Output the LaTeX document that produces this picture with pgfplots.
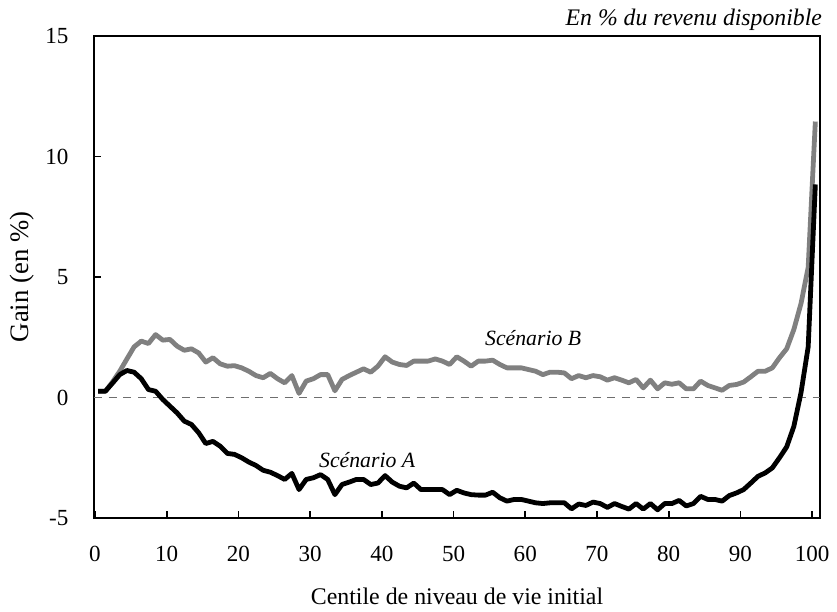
\documentclass[border=0pt]{standalone}
\usepackage{pgfplots}
\usepackage{pgfplotstable}
\pgfplotsset{compat=1.18}
\usepackage{fontspec}
\setmainfont{Liberation Serif}
\definecolor{lgray}{RGB}{128,128,128}
\definecolor{dgray}{RGB}{110,110,110}

\pgfplotstableread{
i B A
0 0.26 0.26
1 0.26 0.26
2 0.65 0.60
3 1.09 0.95
4 1.60 1.12
5 2.10 1.05
6 2.34 0.78
7 2.24 0.33
8 2.61 0.26
9 2.38 -0.08
10 2.41 -0.36
11 2.13 -0.64
12 1.96 -0.98
13 2.02 -1.12
14 1.85 -1.46
15 1.47 -1.91
16 1.65 -1.82
17 1.40 -2.02
18 1.30 -2.32
19 1.32 -2.36
20 1.23 -2.50
21 1.09 -2.68
22 0.91 -2.82
23 0.82 -3.02
24 1.00 -3.10
25 0.78 -3.24
26 0.61 -3.40
27 0.91 -3.15
28 0.17 -3.82
29 0.68 -3.40
30 0.78 -3.33
31 0.95 -3.20
32 0.95 -3.40
33 0.28 -4.03
34 0.75 -3.61
35 0.91 -3.51
36 1.05 -3.40
37 1.19 -3.40
38 1.05 -3.61
39 1.30 -3.55
40 1.69 -3.24
41 1.47 -3.51
42 1.37 -3.68
43 1.33 -3.75
44 1.51 -3.55
45 1.51 -3.82
46 1.51 -3.82
47 1.60 -3.82
48 1.51 -3.82
49 1.37 -4.03
50 1.69 -3.85
51 1.51 -3.96
52 1.30 -4.03
53 1.51 -4.05
54 1.51 -4.05
55 1.55 -3.93
56 1.37 -4.16
57 1.23 -4.30
58 1.23 -4.23
59 1.23 -4.23
60 1.16 -4.30
61 1.09 -4.37
62 0.95 -4.40
63 1.05 -4.37
64 1.05 -4.37
65 1.02 -4.37
66 0.78 -4.62
67 0.91 -4.42
68 0.82 -4.48
69 0.91 -4.34
70 0.86 -4.40
71 0.72 -4.56
72 0.82 -4.40
73 0.72 -4.52
74 0.61 -4.63
75 0.75 -4.40
76 0.40 -4.63
77 0.72 -4.40
78 0.36 -4.66
79 0.61 -4.40
80 0.55 -4.40
81 0.61 -4.27
82 0.36 -4.50
83 0.36 -4.40
84 0.68 -4.10
85 0.50 -4.23
86 0.40 -4.23
87 0.30 -4.30
88 0.50 -4.07
89 0.54 -3.96
90 0.64 -3.82
91 0.86 -3.55
92 1.09 -3.27
93 1.09 -3.13
94 1.23 -2.92
95 1.65 -2.50
96 2.02 -2.05
97 2.82 -1.20
98 3.90 0.20
99 5.40 2.10
100 11.45 8.84
}\datatable

\begin{document}
\begin{tikzpicture}
\begin{axis}[
  name=ax,
  scale only axis,
  width=544.5pt, height=361.5pt,
  xmin=-0.14, xmax=101.1,
  ymin=-5, ymax=15,
  axis line style={line width=1.5pt},
  xtick={0,10,20,30,40,50,60,70,80,90,100},
  xticklabels={0,10,20,30,40,50,60,70,80,90,100},
  ytick={-5,0,5,10,15},
  yticklabels={-5,0,5,10,15},
  tick pos=left,
  tick align=inside,
  major tick length=5pt,
  every tick/.style={black, line width=1.2pt},
  tick label style={font=\fontsize{17.3pt}{21pt}\selectfont},
  xticklabel style={anchor=base, yshift=-32.5pt},
  yticklabel style={anchor=east, inner sep=0pt, xshift=-19pt},
  every axis x label/.style={at={(axis description cs:0.5,-0.18)}, anchor=base, font=\fontsize{17.9pt}{22pt}\selectfont},
  every axis y label/.style={at={(axis description cs:-0.0993,0.5)}, anchor=center, rotate=90, font=\fontsize{20pt}{24pt}\selectfont},
  xlabel={Centile de niveau de vie initial},
  ylabel={Gain (en \%)},
  clip=false,
]
\addplot[dgray, line width=0.8pt, dash pattern=on 6pt off 5pt, forget plot] coordinates {(-0.14,0) (101.1,0)};
\addplot[lgray, line width=3.6pt, line join=round] table[x expr=\thisrow{i}+0.45, y=B] {\datatable};
\addplot[black, line width=3.6pt, line join=round] table[x expr=\thisrow{i}+0.45, y=A] {\datatable};
\node[font=\fontsize{16.3pt}{20pt}\selectfont\itshape] at (axis cs:61.1,2.45) {Scénario B};
\node[font=\fontsize{16.3pt}{20pt}\selectfont\itshape] at (axis cs:37.95,-2.6) {Scénario A};
\node[anchor=base east, inner sep=0pt, font=\fontsize{17.8pt}{22pt}\selectfont\itshape] at (axis description cs:1.003,1.0228) {En \% du revenu disponible};
\end{axis}
\pgfresetboundingbox
\path[use as bounding box] ([shift={(-70.5pt,-69.75pt)}]ax.south west) rectangle ([shift={(12.75pt,27pt)}]ax.north east);
\end{tikzpicture}
\end{document}
